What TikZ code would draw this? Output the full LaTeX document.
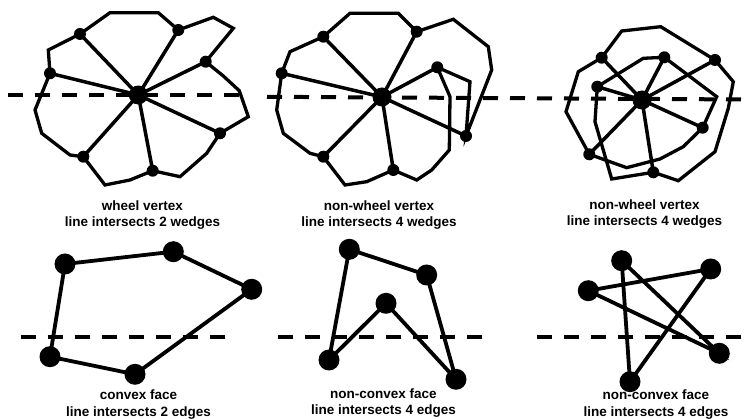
\documentclass[tikz,border=0pt]{standalone}
\usepackage{fontspec}
\setmainfont{Liberation Sans}
\begin{document}
\begin{tikzpicture}[x=1pt,y=-1pt]
\tikzset{
 wire/.style={line width=3.3pt, line join=miter},
 spoke/.style={line width=3.5pt},
 fwire/.style={line width=3.8pt, line join=miter},
 cut/.style={line width=4pt, dash pattern=on 15pt off 12pt},
 sdot/.style={circle, fill=black, inner sep=0pt, minimum size=12pt},
 hub/.style={circle, fill=black, inner sep=0pt, minimum size=19pt},
 bdot/.style={circle, fill=black, inner sep=0pt, minimum size=21pt},
 lbl/.style={font=\bfseries\fontsize{13.5}{16.5}\selectfont, align=center, inner sep=0pt}
}
\useasboundingbox (0,0) rectangle (748,419);

% ---------- panel 1 ----------
\node[hub] (c1) at (138.3,95) {};
\node[sdot] (a1) at (80,34) {};
\node[sdot] (b1) at (178.3,30) {};
\node[sdot] (d1) at (205.7,61.7) {};
\node[sdot] (e1) at (220,133.3) {};
\node[sdot] (f1) at (152.7,170.7) {};
\node[sdot] (g1) at (83.3,156.7) {};
\node[sdot] (h1) at (50,73.3) {};
\draw[wire] (110,12.7) -- (158.3,12.7) -- (b1.center) -- (213.3,17.3) -- (233.3,28.3) -- (d1.center)
  -- (223.3,76) -- (239.3,90.7) -- (248.3,116.7) -- (e1.center) -- (206.7,153.3) -- (180,176.7)
  -- (f1.center) -- (130,180) -- (105,185) -- (g1.center) -- (70,155) -- (41.7,133.3) -- (35,110)
  -- (h1.center) -- (48.3,50) -- (a1.center) -- cycle;
\foreach \n in {a1,b1,d1,e1,f1,g1,h1} \draw[spoke] (c1.center) -- (\n.center);
\coordinate (l1a) at (8,95);
\coordinate (l1b) at (248,95);
\draw[cut] (l1a) -- (l1b);

% ---------- panel 2 ----------
\node[hub] (c2) at (382,97) {};
\node[sdot] (a2) at (323.3,36.7) {};
\node[sdot] (b2) at (416.7,31.7) {};
\node[sdot] (d2) at (437.3,67.3) {};
\node[sdot] (e2) at (466,136) {};
\node[sdot] (f2) at (393.3,170) {};
\node[sdot] (g2) at (323.3,156.7) {};
\node[sdot] (h2) at (281.7,73.3) {};
\draw[wire] (350,13.3) -- (398.3,13.3) -- (b2.center) -- (453.3,19.3) -- (488.3,46.7) -- (491.7,70)
  -- (e2.center) -- (470,81.7) -- (d2.center) -- (450,96.7) -- (449.3,150) -- (431.7,170) -- (416.7,180)
  -- (f2.center) -- (366.7,181.7) -- (345,185) -- (g2.center) -- (310,153.3) -- (283.3,133.3) -- (276.7,110)
  -- (h2.center) -- (290,51.7) -- (a2.center) -- cycle;
\foreach \n in {a2,b2,d2,e2,f2,g2,h2} \draw[spoke] (c2.center) -- (\n.center);

% ---------- panel 3 ----------
\node[hub] (c3) at (642,100) {};
\node[sdot] (a3) at (601.7,57.7) {};
\node[sdot] (b3) at (664.3,57.3) {};
\node[sdot] (d3) at (715,60) {};
\node[sdot] (e3) at (702.7,127.7) {};
\node[sdot] (f3) at (653.3,172.3) {};
\node[sdot] (g3) at (589.3,154.3) {};
\node[sdot] (h3) at (597.3,86.7) {};
\draw[wire] (621.7,31) -- (660.7,26.7) -- (d3.center) -- (733.3,81.7) -- (728.3,108.3) -- (715,151.7)
  -- (678.3,180.7) -- (f3.center) -- (611.7,179) -- (595,121.7) -- (h3.center) -- (643.3,58.3)
  -- (b3.center) -- (716.7,96.7) -- (e3.center) -- (683.3,146.7) -- (660,159) -- (626.7,167.7)
  -- (g3.center) -- (566,111.7) -- (578.3,71.7) -- (a3.center) -- cycle;
\foreach \n in {a3,b3,d3,e3,f3,g3,h3} \draw[spoke] (c3.center) -- (\n.center);
\coordinate (l2a) at (267,96.8);
\coordinate (l2b) at (748,99.5);
\draw[cut] (l2a) -- (l2b);

% ---------- panel 4 ----------
\node[bdot] (p4a) at (65,264) {};
\node[bdot] (p4b) at (173.3,251.7) {};
\node[bdot] (p4c) at (251.7,289.3) {};
\node[bdot] (p4d) at (135,374.3) {};
\node[bdot] (p4e) at (50,356.7) {};
\draw[fwire] (p4a.center) -- (p4b.center) -- (p4c.center) -- (p4d.center) -- (p4e.center) -- cycle;
\coordinate (l4a) at (20.7,336.7);
\coordinate (l4b) at (232.3,336.7);
\draw[cut] (l4a) -- (l4b);

% ---------- panel 5 ----------
\node[bdot] (p5a) at (349.3,249.3) {};
\node[bdot] (p5b) at (426.7,275) {};
\node[bdot] (p5c) at (456,379.3) {};
\node[bdot] (p5d) at (386,303.3) {};
\node[bdot] (p5e) at (329,360) {};
\draw[fwire] (p5a.center) -- (p5b.center) -- (p5c.center) -- (p5d.center) -- (p5e.center) -- cycle;
\coordinate (l5a) at (278.3,336.7);
\coordinate (l5b) at (490.7,336.7);
\draw[cut] (l5a) -- (l5b);

% ---------- panel 6 ----------
\node[bdot] (p6a) at (621.7,260.7) {};
\node[bdot] (p6b) at (630,381.7) {};
\node[bdot] (p6c) at (710.7,269) {};
\node[bdot] (p6d) at (588.3,290.7) {};
\node[bdot] (p6e) at (719.3,353.3) {};
\draw[fwire] (p6a.center) -- (p6b.center) -- (p6c.center) -- (p6d.center) -- (p6e.center) -- cycle;
\coordinate (l6a) at (536.7,336.7);
\coordinate (l6b) at (748,336.7);
\draw[cut] (l6a) -- (l6b);

% ---------- labels ----------
\node[lbl] (t1) at (142.5,215) {wheel vertex\\line intersects 2 wedges};
\node[lbl] (t2) at (379,215) {non-wheel vertex\\line intersects 4 wedges};
\node[lbl] (t3) at (644.5,214) {non-wheel vertex\\line intersects 4 wedges};
\node[lbl] (u1) at (138.5,404.5) {convex face\\line intersects 2 edges};
\node[lbl] (u2) at (383.5,403) {non-convex face\\line intersects 4 edges};
\node[lbl] (u3) at (656,404.5) {non-convex face\\line intersects 4 edges};
\end{tikzpicture}
\end{document}
